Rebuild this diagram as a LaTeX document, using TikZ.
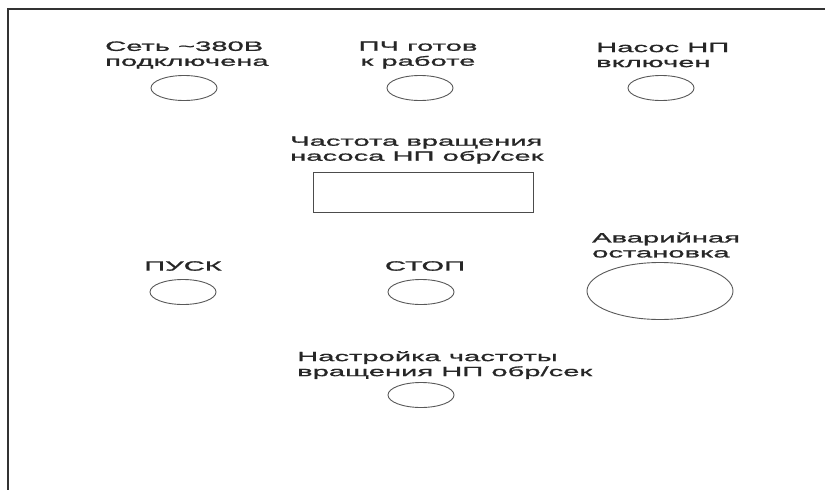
\documentclass[tikz,border=0pt]{standalone}
\usepackage{fontspec}
\usetikzlibrary{shapes.geometric}
\newfontfamily\lblfont[FakeStretch=2.16,FakeBold=1.2]{Liberation Sans}
\begin{document}
\begin{tikzpicture}[x=1pt,y=-1pt,
  lbl/.style={font=\lblfont\fontsize{13.5}{15}\selectfont, text=black!85, inner sep=0pt},
  lamp/.style={draw=black!65, line width=0.9pt, ellipse, minimum width=66pt, minimum height=25pt, inner sep=0pt},
  bigbtn/.style={draw=black!65, line width=0.9pt, ellipse, minimum width=146pt, minimum height=57pt, inner sep=0pt},
  display/.style={draw=black!70, line width=1pt, rectangle, minimum width=220pt, minimum height=40pt, inner sep=0pt},
  frameline/.style={draw=black!80, line width=2pt}]
\useasboundingbox (0,0) rectangle (825,490);
\fill[white] (0,0) rectangle (825,490);
\coordinate (fbl) at (8,491);
\coordinate (ftl) at (8,9);
\coordinate (ftr) at (826,9);
\draw[frameline] (fbl) -- (ftl) -- (ftr);

\node[lbl, align=left, anchor=west] (t1) at (105,55) {Сеть \textasciitilde380В\\подключена};
\node[lamp] (l1) at (184,88) {};

\node[lbl, align=center] (t2) at (418,55) {ПЧ готов\\ к работе};
\node[lamp] (l2) at (420,88) {};

\node[lbl, align=left, anchor=west] (t3) at (596,55) {Насос НП\\включен};
\node[lamp] (l3) at (661,88) {};

\node[lbl, align=left, anchor=west] (t4) at (290,150) {Частота вращения\\насоса НП обр/сек};
\node[display] (d1) at (423,192) {};

\node[lbl] (t5) at (183,266) {ПУСК};
\node[lamp] (l5) at (183,292) {};

\node[lbl] (t6) at (425,266) {СТОП};
\node[lamp] (l6) at (421,292) {};

\node[lbl, align=left, anchor=west] (t7) at (592,245) {Аварийная\\остановка};
\node[bigbtn] (b7) at (660,291) {};

\node[lbl, align=left, anchor=west] (t8) at (297,365) {Настройка частоты\\вращения НП обр/сек};
\node[lamp] (l8) at (421,395) {};
\end{tikzpicture}
\end{document}
